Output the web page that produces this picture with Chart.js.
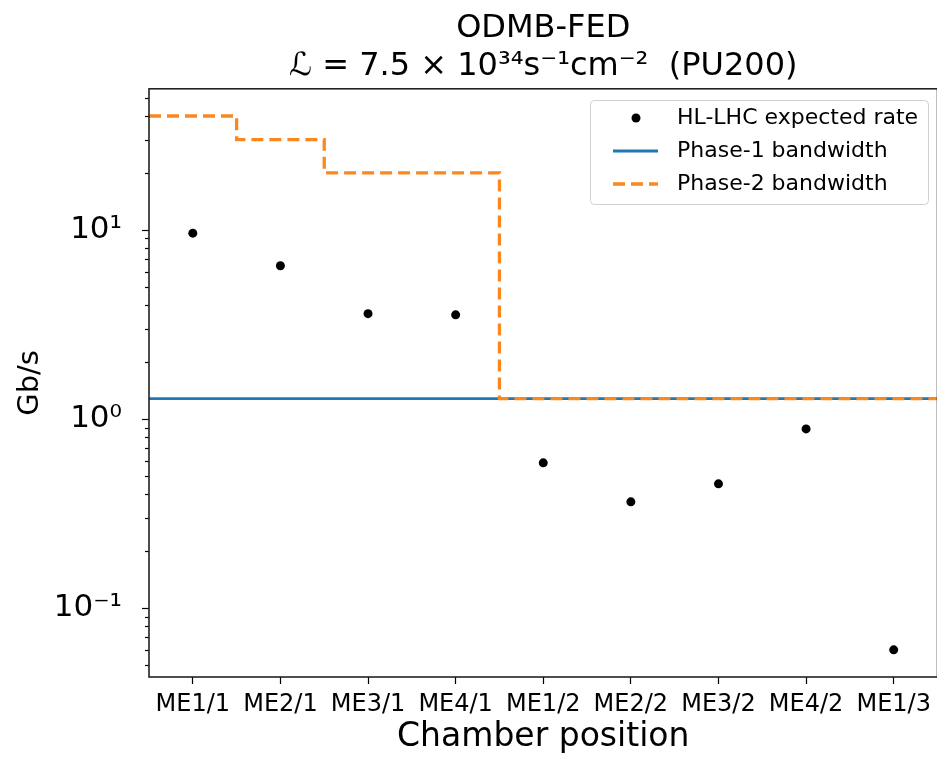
<!DOCTYPE html>
<html>
<head>
<meta charset="utf-8">
<script src="https://cdn.jsdelivr.net/npm/chart.js@4/dist/chart.umd.min.js"></script>
<style>
	html, body { margin: 0; padding: 0; background: #fff; overflow: hidden; }
	#wrap { width: 942px; height: 757px; }
</style>
</head>
<body>
<div id="wrap"><canvas id="chart"></canvas></div>
<script>
/*********************** DATA ******************************/
const chambers = ['ME1/1', 'ME2/1', 'ME3/1', 'ME4/1', 'ME1/2', 'ME2/2', 'ME3/2', 'ME4/2', 'ME1/3'];
const expectedRate = [9.6, 6.45, 3.6, 3.55, 0.585, 0.364, 0.453, 0.885, 0.06];
const phase1Bandwidth = [1.28, 1.28, 1.28, 1.28, 1.28, 1.28, 1.28, 1.28, 1.28];
const phase2Bandwidth = [40, 30, 20, 20, 1.28, 1.28, 1.28, 1.28, 1.28];
const yMajorTicks = [0.1, 1, 10];
const yTickLabels = ['10\u207B\u00B9', '10\u2070', '10\u00B9'];
const titleLines = ['ODMB-FED', '\u2112 = 7.5 \u00D7 10\u00B3\u2074s\u207B\u00B9cm\u207B\u00B2  (PU200)'];

const FONT = "'DejaVu Sans', sans-serif";

// ступенчатая линия: каждое значение держится на ширине своей категории
function stepPoints(values) {
	const pts = values.map((v, i) => ({ x: i - 0.5, y: v }));
	pts.push({ x: values.length - 0.5, y: values[values.length - 1] });
	return pts;
}

// малые деления логарифмической оси (2..9 в каждой декаде)
function logTicks(min, max) {
	const ticks = [];
	for (let e = Math.floor(Math.log10(min)); e <= Math.ceil(Math.log10(max)); e++) {
		for (let m = 1; m < 10; m++) {
			const v = m * Math.pow(10, e);
			if (v >= min && v <= max) ticks.push({ value: v, major: m === 1 });
		}
	}
	return ticks;
}

// рамка вокруг поля диаграммы + деления оси Y
const axesFrame = {
	id: 'axesFrame',
	afterDraw(chart) {
		const { ctx, chartArea: { left, top, width, height } } = chart;
		const y = chart.scales.y;
		ctx.save();
		ctx.strokeStyle = '#000';
		ctx.lineWidth = 1.2;
		y.ticks.forEach((t) => {
			const py = Math.round(y.getPixelForValue(t.value)) + 0.5;
			const len = t.major ? 7 : 4;
			ctx.beginPath();
			ctx.moveTo(left - len, py);
			ctx.lineTo(left, py);
			ctx.stroke();
		});
		ctx.strokeStyle = '#222';
		ctx.lineWidth = 1.6;
		ctx.strokeRect(left, top, width, height);
		ctx.restore();
	},
};

// легенда внутри поля, как в matplotlib
const boxLegend = {
	id: 'boxLegend',
	afterDraw(chart) {
		const { ctx } = chart;
		const x0 = 590, y0 = 100, w = 338, h = 104;
		ctx.save();
		ctx.fillStyle = 'rgba(255,255,255,0.8)';
		ctx.strokeStyle = '#d0d0d0';
		ctx.lineWidth = 1;
		ctx.beginPath();
		ctx.roundRect(x0 + 0.5, y0 + 0.5, w, h, 4);
		ctx.fill();
		ctx.stroke();
		ctx.font = `22px ${FONT}`;
		ctx.textBaseline = 'middle';
		const rows = [118, 151, 184];
		chart.data.datasets.forEach((ds, i) => {
			const ry = rows[i];
			if (!ds.showLine) {
				ctx.beginPath();
				ctx.arc(636, ry, ds.pointRadius, 0, Math.PI * 2);
				ctx.fillStyle = ds.backgroundColor;
				ctx.fill();
			} else {
				ctx.beginPath();
				ctx.setLineDash(ds.borderDash || []);
				ctx.strokeStyle = ds.borderColor;
				ctx.lineWidth = ds.borderWidth;
				ctx.moveTo(613, ry);
				ctx.lineTo(658, ry);
				ctx.stroke();
				ctx.setLineDash([]);
			}
			ctx.fillStyle = '#000';
			ctx.fillText(ds.label, 677, ry);
		});
		ctx.restore();
	},
};

const data = {
	datasets: [
		{
			label: 'HL-LHC expected rate',
			data: expectedRate.map((v, i) => ({ x: i, y: v })),
			showLine: false,
			pointRadius: 4.5,
			pointBorderWidth: 0,
			backgroundColor: '#000',
			borderColor: '#000',
			order: 2,
		},
		{
			label: 'Phase-1 bandwidth',
			data: stepPoints(phase1Bandwidth),
			showLine: true,
			stepped: true,
			borderColor: '#1f77b4',
			borderWidth: 2.8,
			pointRadius: 0,
			order: 1,
		},
		{
			label: 'Phase-2 bandwidth',
			data: stepPoints(phase2Bandwidth),
			showLine: true,
			stepped: true,
			borderColor: '#fa8720',
			borderWidth: 3.3,
			borderDash: [12, 6],
			pointRadius: 0,
			order: 0,
		},
	],
};

const chartConfig = {
	type: 'scatter',
	data: data,
	options: {
		responsive: true,
		maintainAspectRatio: false,
		animation: false,
		layout: { padding: { left: 0, right: 2, top: 0, bottom: 0 } },
		plugins: {
			legend: { display: false },
			tooltip: { enabled: false },
			title: {
				display: true,
				fullSize: false,
				text: titleLines,
				color: '#000',
				font: { family: FONT, size: 32, weight: 'normal', lineHeight: 1.2 },
				padding: { top: 9, bottom: 3 },
			},
		},
		scales: {
			x: {
				type: 'linear',
				min: -0.5,
				max: 8.5,
				afterBuildTicks: (scale) => {
					scale.ticks = chambers.map((c, i) => ({ value: i }));
				},
				afterFit: (scale) => {
					scale.height = 80;
				},
				border: { display: false },
				grid: {
					display: true,
					drawOnChartArea: false,
					drawTicks: true,
					tickLength: 7,
					tickColor: '#000',
					tickWidth: 1.2,
				},
				ticks: {
					autoSkip: false,
					maxRotation: 0,
					color: '#000',
					padding: 6,
					font: { family: FONT, size: 24 },
					callback: (value) => chambers[value],
				},
				title: {
					display: true,
					text: 'Chamber position',
					color: '#000',
					font: { family: FONT, size: 33, lineHeight: 1.2 },
					padding: { top: 0, bottom: 0 },
				},
			},
			y: {
				type: 'logarithmic',
				min: 0.0431,
				max: 55.7,
				bounds: 'data',
				afterBuildTicks: (scale) => {
					scale.ticks = logTicks(scale.min, scale.max);
				},
				afterFit: (scale) => {
					scale.width = 149;
				},
				border: { display: false },
				grid: { display: false },
				ticks: {
					autoSkip: false,
					color: '#000',
					padding: 19,
					font: { family: FONT, size: 31 },
					callback: (value) => {
						const i = yMajorTicks.findIndex((t) => Math.abs(t - value) / t < 1e-6);
						return i >= 0 ? yTickLabels[i] : '';
					},
				},
				title: {
					display: true,
					text: 'Gb/s',
					color: '#000',
					font: { family: FONT, size: 29, lineHeight: 1.2 },
					padding: { top: 13, bottom: 0 },
				},
			},
		},
	},
	plugins: [axesFrame, boxLegend],
};

new Chart(document.getElementById('chart'), chartConfig);
</script>
</body>
</html>
